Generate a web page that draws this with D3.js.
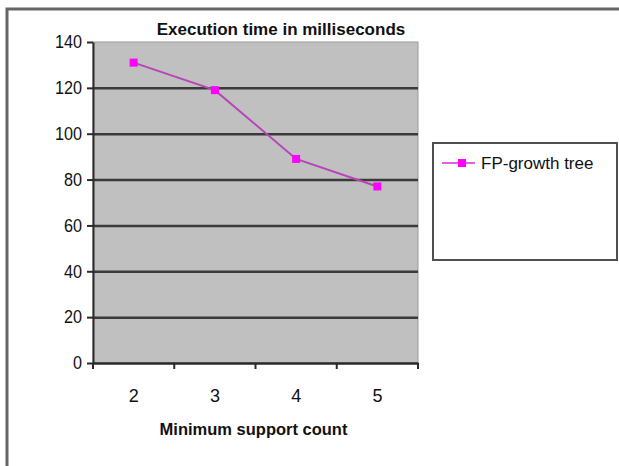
<!DOCTYPE html>
<html>
<head>
<meta charset="utf-8">
<script src="https://cdn.jsdelivr.net/npm/d3@7"></script>
<style>
  body { margin: 0; background: #fff; }
  svg text { font-family: "Liberation Sans", Arial, sans-serif; fill: #111; }
</style>
</head>
<body>
<div id="chart"></div>
<script>
// Data
const supportCounts = ["2", "3", "4", "5"];
const execTimes = [131, 119, 89, 77];
const yTicks = [0, 20, 40, 60, 80, 100, 120, 140];
const seriesName = "FP-growth tree";
const chartTitle = "Execution time in milliseconds";
const xTitle = "Minimum support count";

// Dimensions
const width = 619, height = 466;
const plot = { left: 93, top: 42, right: 418, bottom: 363 };

const svg = d3.select("#chart")
    .append("svg")
    .attr("width", width)
    .attr("height", height);

// squeeze text horizontally a little, keeping its anchor point
function narrow(sel, k) {
    sel.each(function() {
        const t = d3.select(this);
        const x0 = +t.attr("x") || 0;
        t.attr("x", x0 / k).attr("transform", "scale(" + k + ",1)");
    });
}

// outer frame (only top and left edges visible)
svg.append("path")
    .attr("d", "M7,466 L7,9 L619,9")
    .attr("fill", "none")
    .attr("stroke", "#666")
    .attr("stroke-width", 3);

const x = d3.scaleBand()
    .domain(supportCounts)
    .range([plot.left, plot.right]);

const y = d3.scaleLinear()
    .domain([0, 140])
    .range([plot.bottom, plot.top]);

// plot background
svg.append("rect")
    .attr("x", plot.left)
    .attr("y", plot.top)
    .attr("width", plot.right - plot.left)
    .attr("height", plot.bottom - plot.top)
    .attr("fill", "#c0c0c0")
    .attr("stroke", "#9a9a9a")
    .attr("stroke-width", 1);

// gridlines
svg.append("g")
    .attr("transform", "translate(" + plot.left + ",0)")
    .call(d3.axisLeft(y).tickValues(yTicks.filter(d => d > 0 && d < 140)).tickSize(-(plot.right - plot.left)).tickFormat(""))
    .call(g => g.select(".domain").remove())
    .call(g => g.selectAll("line").attr("stroke", "#3a3a3a").attr("stroke-width", 2.5));

// Y axis
svg.append("g")
    .attr("transform", "translate(" + plot.left + ",0)")
    .call(d3.axisLeft(y).tickValues(yTicks).tickSize(6).tickPadding(5).tickSizeOuter(0))
    .call(g => g.select(".domain").attr("stroke", "#2a2a2a").attr("stroke-width", 2))
    .call(g => g.selectAll("line").attr("stroke", "#2a2a2a").attr("stroke-width", 2))
    .call(g => g.selectAll("text").attr("font-size", 18).attr("fill", "#222")
        .style("font-family", "'Liberation Sans', Arial, sans-serif").call(narrow, 0.9));

// X axis labels
svg.append("g")
    .attr("transform", "translate(0," + plot.bottom + ")")
    .call(d3.axisBottom(x).tickSize(0).tickPadding(26))
    .call(g => g.select(".domain").attr("stroke", "#2a2a2a").attr("stroke-width", 2.5))
    .call(g => g.selectAll("text").attr("font-size", 18).attr("fill", "#222")
        .style("font-family", "'Liberation Sans', Arial, sans-serif"));

// X axis ticks between categories
const boundaries = supportCounts.map(d => x(d)).concat([x(supportCounts[supportCounts.length - 1]) + x.bandwidth()]);
svg.append("g")
    .selectAll("line")
    .data(boundaries)
    .enter()
    .append("line")
    .attr("x1", d => d)
    .attr("x2", d => d)
    .attr("y1", plot.bottom)
    .attr("y2", plot.bottom + 6)
    .attr("stroke", "#2a2a2a")
    .attr("stroke-width", 2);

// Line
const line = d3.line()
    .x((d, i) => x(supportCounts[i]) + x.bandwidth() / 2)
    .y(d => y(d));

svg.append("path")
    .datum(execTimes)
    .attr("d", line)
    .attr("fill", "none")
    .attr("stroke", "#b845b8")
    .attr("stroke-width", 2);

// Markers
svg.selectAll(".marker")
    .data(execTimes)
    .enter()
    .append("rect")
    .attr("class", "marker")
    .attr("x", (d, i) => x(supportCounts[i]) + x.bandwidth() / 2 - 4)
    .attr("y", d => y(d) - 4)
    .attr("width", 8)
    .attr("height", 8)
    .attr("fill", "#ff00ff");

// Title
svg.append("text")
    .attr("x", (160 + 402) / 2)
    .attr("y", 35)
    .attr("text-anchor", "middle")
    .attr("font-size", 17)
    .attr("font-weight", "bold")
    .text(chartTitle);

// X axis title
svg.append("text")
    .attr("x", (160 + 347) / 2)
    .attr("y", 435)
    .attr("text-anchor", "middle")
    .attr("font-size", 16.5)
    .attr("font-weight", "bold")
    .text(xTitle);

// Legend
const legend = svg.append("g");
legend.append("rect")
    .attr("x", 433)
    .attr("y", 143)
    .attr("width", 184)
    .attr("height", 117)
    .attr("fill", "#fff")
    .attr("stroke", "#505050")
    .attr("stroke-width", 2);
legend.append("line")
    .attr("x1", 442).attr("x2", 475)
    .attr("y1", 163).attr("y2", 163)
    .attr("stroke", "#e060e0")
    .attr("stroke-width", 2);
legend.append("rect")
    .attr("x", 458).attr("y", 159)
    .attr("width", 8).attr("height", 8)
    .attr("fill", "#ff00ff");
legend.append("text")
    .attr("x", 481)
    .attr("y", 169)
    .attr("font-size", 17)
    .text(seriesName);
</script>
</body>
</html>
